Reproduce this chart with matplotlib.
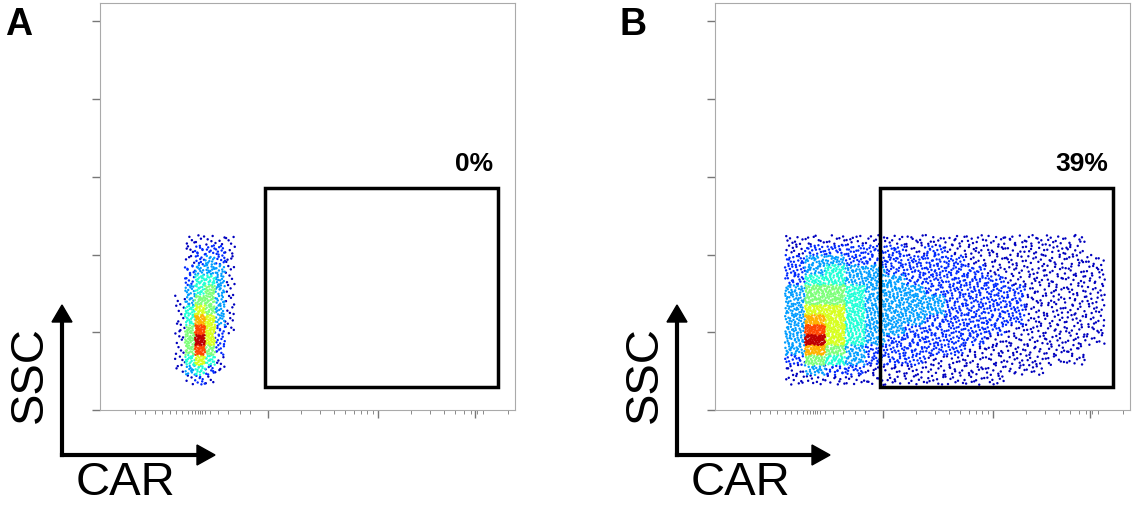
import numpy as np
import matplotlib.pyplot as plt
from matplotlib.patches import Rectangle

plt.rcParams['font.family'] = ['Liberation Sans', 'DejaVu Sans']

# density grids (rows top -> bottom), axes units = pixels
a_x = [80, 90, 100, 110, 120, 130, 140]
a_y = [170, 160, 150, 140, 130, 120, 110, 100, 90, 80, 70, 60, 50, 40, 30]
a_dens = [
    [0, 1, 1, 1, 1, 1, 0],
    [0, 1, 2, 2, 2, 1, 0],
    [0, 1, 2, 3, 2, 1, 0],
    [0, 2, 3, 3, 3, 1, 0],
    [0, 2, 4, 4, 3, 1, 0],
    [0, 3, 4, 5, 3, 1, 0],
    [1, 3, 5, 5, 3, 1, 0],
    [1, 4, 6, 5, 3, 1, 0],
    [1, 4, 7, 6, 3, 1, 0],
    [1, 5, 8, 6, 2, 1, 0],
    [1, 5, 9, 6, 2, 0, 0],
    [1, 5, 8, 5, 2, 0, 0],
    [1, 4, 6, 4, 1, 0, 0],
    [1, 3, 4, 2, 1, 0, 0],
    [0, 1, 2, 1, 0, 0, 0],
]
b_x = [80, 100, 120, 140, 160, 180, 200, 220, 240, 260, 280, 300, 320, 340, 360, 380]
b_y = a_y
b_dens = [
    [1, 1, 1, 1, 1, 1, 1, 1, 1, 1, 1, 1, 1, 1, 1, 0],
    [1, 2, 2, 2, 2, 2, 1, 2, 1, 1, 1, 1, 1, 1, 1, 0],
    [2, 3, 3, 2, 2, 2, 2, 2, 2, 1, 1, 1, 1, 1, 1, 1],
    [2, 3, 4, 3, 3, 2, 2, 2, 2, 2, 1, 1, 1, 1, 1, 1],
    [2, 4, 4, 3, 3, 3, 2, 2, 2, 2, 2, 1, 1, 1, 1, 1],
    [3, 5, 5, 4, 3, 3, 3, 2, 2, 2, 2, 2, 1, 1, 1, 1],
    [3, 5, 5, 4, 3, 3, 3, 3, 2, 2, 2, 2, 1, 1, 1, 1],
    [3, 6, 6, 4, 3, 3, 3, 3, 2, 2, 2, 2, 1, 1, 1, 1],
    [3, 7, 6, 4, 3, 3, 3, 2, 2, 2, 2, 2, 1, 1, 1, 1],
    [3, 8, 6, 4, 3, 3, 2, 2, 2, 2, 2, 1, 1, 1, 1, 1],
    [3, 9, 6, 4, 3, 2, 2, 2, 2, 2, 1, 1, 1, 1, 1, 1],
    [3, 7, 5, 3, 2, 2, 2, 2, 2, 1, 1, 1, 1, 1, 1, 0],
    [2, 5, 4, 3, 2, 2, 2, 1, 1, 1, 1, 1, 1, 1, 1, 0],
    [1, 3, 2, 2, 1, 1, 1, 1, 1, 1, 1, 1, 1, 0, 0, 0],
    [1, 1, 1, 1, 1, 1, 1, 1, 1, 1, 1, 0, 0, 0, 0, 0],
]
gate = (165, 23, 233, 199)  # x, y, w, h
pcts = ['0%', '39%']
letters = ['A', 'B']
yticks = [0, 78, 155, 233, 311, 389]
xmajor = [168, 278, 375]

fig = plt.figure(figsize=(11.33, 5.11), dpi=100)
lefts = [100 / 1133, 715 / 1133]
panels = [(a_x, a_y, a_dens, 10, 10), (b_x, b_y, b_dens, 20, 10)]
cmap = plt.get_cmap('jet')


def halton(k, b):
    f, r = 1.0, np.zeros(len(k))
    k = k.astype(float)
    while np.any(k > 0):
        f /= b
        r += f * (k % b)
        k = np.floor(k / b)
    return r


def dots(xs, ys, d, dx, dy):
    # spread dots over each cell (low-discrepancy fill), count ~ density
    px, py, pc = [], [], []
    for r, yc in enumerate(ys):
        for c, xc in enumerate(xs):
            v = d[r][c]
            n = int(v * dx * dy / 22) if v else 0
            k = np.arange(n) + 1 + (r * 37 + c * 11)
            px += list(xc - dx / 2 + dx * halton(k, 2))
            py += list(yc - dy / 2 + dy * halton(k, 3))
            pc += [v] * n
    return np.array(px), np.array(py), np.array(pc)


for i, (xs, ys, d, dx, dy) in enumerate(panels):
    ax = fig.add_axes([lefts[i], 101 / 511, 415 / 1133, 407 / 511])
    px, py, pc = dots(xs, ys, d, dx, dy)
    order = np.argsort(pc)
    ax.scatter(px[order], py[order], c=pc[order], cmap=cmap, vmin=0.5, vmax=9.5, s=3,
               linewidths=0)
    ax.set_xlim(0, 415)
    ax.set_ylim(0, 407)
    ax.add_patch(Rectangle(gate[:2], gate[2], gate[3], fill=False, lw=2.5, color='black'))
    ax.text(gate[0] + gate[2] - 5, gate[1] + gate[3] + 12, pcts[i], ha='right', va='bottom',
            fontsize=19, fontweight='bold')
    for s in ax.spines.values():
        s.set_color('#aaaaaa')
    ax.set_yticks(yticks)
    ax.set_yticklabels([])
    minor = [35, 45, 55, 62, 70, 76, 82, 88, 92, 95, 98, 100, 102, 105, 110, 118, 128, 140, 150]
    for m in xmajor:
        minor += [m + 110 * np.log10(k) for k in range(2, 10) if m + 110 * np.log10(k) < 412]
    ax.set_xticks(xmajor)
    ax.set_xticks(minor, minor=True)
    ax.set_xticklabels([])
    ax.tick_params(direction='out', color='#777777', length=6, width=1)
    ax.tick_params(which='minor', direction='out', color='#777777', length=3)
    ox = lefts[i] - 100 / 1133
    fig.text(ox + 5 / 1133, 1 - 25 / 511, letters[i], fontsize=27, fontweight='bold', va='center')
    fig.add_artist(plt.Line2D([ox + 62 / 1133] * 2, [1 - 455 / 511, 1 - 318 / 511], color='black', lw=3))
    fig.add_artist(plt.Line2D([ox + 62 / 1133, ox + 200 / 1133], [1 - 455 / 511] * 2, color='black', lw=3))
    fig.patches.append(plt.Polygon([[ox + 52 / 1133, 1 - 322 / 511], [ox + 72 / 1133, 1 - 322 / 511],
                                    [ox + 62 / 1133, 1 - 305 / 511]], closed=True, color='black',
                                   transform=fig.transFigure, figure=fig))
    fig.patches.append(plt.Polygon([[ox + 197 / 1133, 1 - 445 / 511], [ox + 197 / 1133, 1 - 465 / 511],
                                    [ox + 215 / 1133, 1 - 455 / 511]], closed=True, color='black',
                                   transform=fig.transFigure, figure=fig))
    fig.text(ox + 30 / 1133, 1 - 375 / 511, 'SSC', rotation=90, fontsize=34, ha='center', va='center')
    fig.text(ox + 125 / 1133, 1 - 483 / 511, 'CAR', fontsize=34, ha='center', va='center')

fig.savefig('out.png', dpi=100)
